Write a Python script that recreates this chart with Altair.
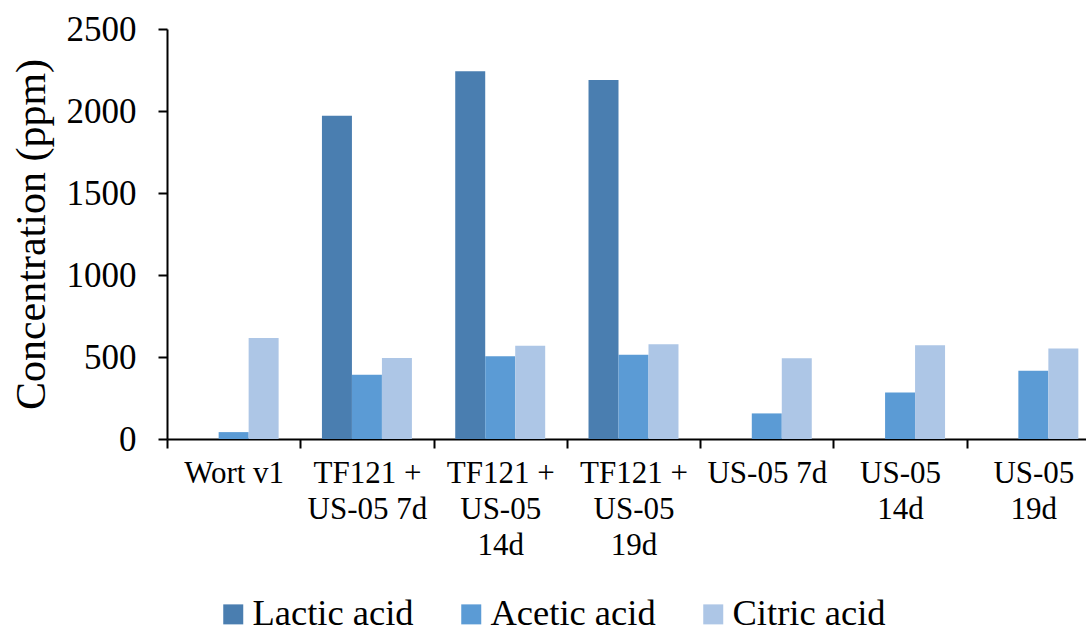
import altair as alt
import pandas as pd

categories = [
    "Wort v1",
    "TF121 +\nUS-05 7d",
    "TF121 +\nUS-05\n14d",
    "TF121 +\nUS-05\n19d",
    "US-05 7d",
    "US-05\n14d",
    "US-05\n19d",
]
acids = ["Lactic acid", "Acetic acid", "Citric acid"]
lactic = [0, 1971, 2242, 2189, 0, 0, 0]
acetic = [42, 392, 504, 514, 156, 284, 416]
citric = [616, 494, 569, 577, 492, 571, 552]
colors = ["#4A7EB0", "#5B9BD5", "#ADC6E6"]

rows = []
for i, c in enumerate(categories):
    for a, vals in zip(acids, [lactic, acetic, citric]):
        rows.append({"Sample": c, "Acid": a, "Value": vals[i]})
df = pd.DataFrame(rows)

FONT = "Liberation Serif"

chart = alt.Chart(df).mark_bar().encode(
    x=alt.X(
        "Sample:N",
        sort=categories,
        scale=alt.Scale(range=[0, 933], paddingInner=0.325, paddingOuter=0.1625),
        axis=alt.Axis(
            title=None,
            labelAngle=0,
            labelExpr="split(datum.label, '\\n')",
            labelFont=FONT,
            labelFontSize=31,
            labelColor="black",
            labelLineHeight=36,
            labelPadding=10,
            labelBaseline="top",
            bandPosition=0,
            tickOffset=-21.67,
            labelOffset=21.67,
            tickSize=9,
            tickWidth=2,
            tickColor="black",
            domainColor="black",
            domainWidth=2,
            grid=False,
        ),
    ),
    xOffset=alt.XOffset(
        "Acid:N", sort=acids, scale=alt.Scale(paddingInner=0, paddingOuter=0)
    ),
    y=alt.Y(
        "Value:Q",
        scale=alt.Scale(domain=[0, 2500], nice=False),
        axis=alt.Axis(
            title="Concentration (ppm)",
            values=[0, 500, 1000, 1500, 2000, 2500],
            format="d",
            labelFont=FONT,
            labelFontSize=35,
            labelColor="black",
            labelPadding=22,
            tickSize=9,
            tickWidth=2,
            tickColor="black",
            domainColor="black",
            domainWidth=2,
            grid=False,
            titleFont=FONT,
            titleFontSize=42,
            titleFontWeight="normal",
            titleColor="black",
            titleAngle=270,
            titleX=-136,
            titleY=205,
            titleAlign="center",
            titleBaseline="middle",
        ),
    ),
    color=alt.Color(
        "Acid:N",
        sort=acids,
        scale=alt.Scale(domain=acids, range=colors),
        legend=alt.Legend(
            title=None,
            orient="none",
            legendX=48,
            legendY=567,
            direction="horizontal",
            columns=3,
            symbolType="square",
            symbolSize=400,
            symbolStrokeWidth=0,
            labelFont=FONT,
            labelFontSize=36.5,
            labelColor="black",
            labelLimit=400,
            labelOffset=1,
            columnPadding=39,
            gridAlign="each",
            padding=0,
        ),
    ),
).properties(
    width=919,
    height=410,
    padding={"left": 167, "top": 29, "right": 0, "bottom": 188},
    autosize=alt.AutoSizeParams(type="none"),
).configure_view(stroke=None)

chart.save("out.html", embed_options={"renderer": "svg", "actions": False})
